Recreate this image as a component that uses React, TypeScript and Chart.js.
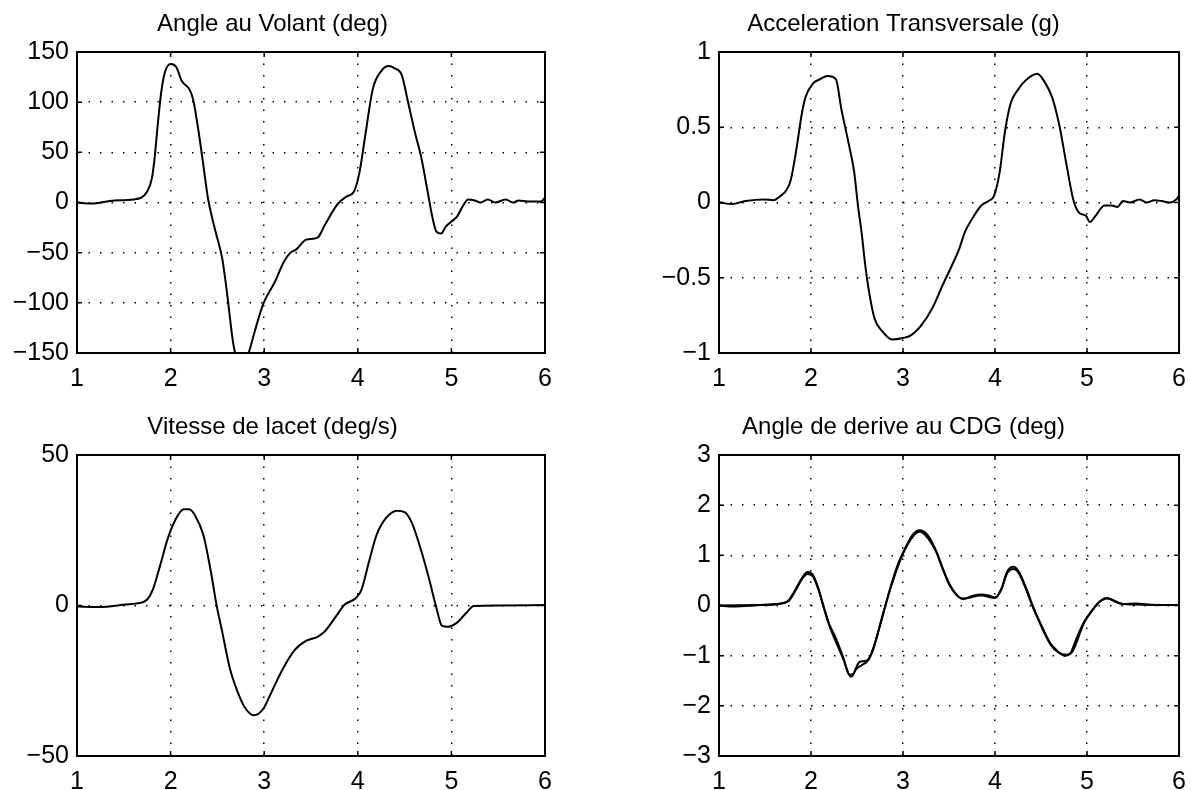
import React, { useEffect, useRef } from 'react';
import { Chart, registerables } from 'chart.js';

Chart.register(...registerables);

const FONT = "'Liberation Sans', Arial, Helvetica, sans-serif";

// ---- Angle au Volant (deg) ----
const volantT = [1.0, 1.15, 1.4, 1.6, 1.75, 1.8, 1.83, 1.86, 1.9, 1.94, 2.0, 2.06, 2.12, 2.2, 2.24, 2.3, 2.34, 2.4, 2.48, 2.55, 2.6, 2.67, 2.7, 2.75, 2.8, 2.84, 2.9, 2.99, 3.12, 3.2, 3.28, 3.34, 3.45, 3.57, 3.65, 3.78, 3.88, 3.96, 4.02, 4.08, 4.16, 4.25, 4.33, 4.39, 4.47, 4.53, 4.61, 4.68, 4.74, 4.8, 4.84, 4.89, 4.94, 5.0, 5.06, 5.12, 5.18, 5.25, 5.31, 5.39, 5.47, 5.58, 5.66, 5.72, 5.82, 5.9, 5.96, 6.0];
const volantDeg = [0, -1, 2, 3, 11, 24, 45, 75, 110, 130, 138, 135, 121, 113, 103, 70, 44, 4, -29, -55, -88, -141, -153, -158, -155, -148, -128, -101, -78, -61, -50, -47, -37, -35, -22, -2, 6, 11, 31, 67, 113, 131, 136, 134, 127, 103, 70, 44, 14, -16, -29, -31, -24, -19, -14, -4, 3, 2, 0, 3, 0, 3, 0, 2, 1, 1, 1, 5];

// ---- Acceleration Transversale (g) ----
const accelT = [1.0, 1.14, 1.29, 1.49, 1.59, 1.67, 1.73, 1.78, 1.84, 1.9, 1.94, 2.02, 2.1, 2.18, 2.27, 2.33, 2.41, 2.47, 2.51, 2.55, 2.59, 2.63, 2.69, 2.78, 2.88, 3.0, 3.08, 3.2, 3.32, 3.43, 3.53, 3.61, 3.67, 3.77, 3.85, 3.93, 3.99, 4.05, 4.11, 4.17, 4.25, 4.34, 4.46, 4.54, 4.62, 4.7, 4.78, 4.85, 4.91, 4.99, 5.03, 5.09, 5.19, 5.27, 5.33, 5.39, 5.47, 5.57, 5.65, 5.73, 5.81, 5.9, 5.97, 6.0];
const accelG = [0.0, -0.01, 0.01, 0.02, 0.015, 0.045, 0.08, 0.15, 0.35, 0.59, 0.7, 0.79, 0.82, 0.84, 0.82, 0.62, 0.39, 0.2, -0.02, -0.2, -0.42, -0.59, -0.77, -0.86, -0.91, -0.9, -0.885, -0.815, -0.7, -0.55, -0.42, -0.31, -0.2, -0.09, -0.02, 0.01, 0.045, 0.2, 0.48, 0.66, 0.75, 0.815, 0.855, 0.8, 0.7, 0.51, 0.24, 0.02, -0.065, -0.09, -0.13, -0.09, -0.02, -0.02, -0.03, 0.01, 0.0, 0.02, 0.0, 0.015, 0.01, 0.0, 0.02, 0.045];

// ---- Vitesse de lacet (deg/s) ----
const lacetT = [1.0, 1.23, 1.52, 1.64, 1.75, 1.81, 1.89, 1.97, 2.06, 2.14, 2.2, 2.26, 2.35, 2.43, 2.49, 2.55, 2.63, 2.71, 2.79, 2.89, 2.99, 3.07, 3.19, 3.32, 3.45, 3.57, 3.65, 3.78, 3.86, 3.98, 4.04, 4.12, 4.2, 4.3, 4.42, 4.5, 4.58, 4.66, 4.75, 4.84, 4.9, 4.96, 5.06, 5.16, 5.24, 5.49, 6.0];
const lacetDegS = [-0.3, -0.5, 0.3, 0.7, 2, 5.3, 13.5, 22.3, 29, 32, 32, 30, 23.4, 11.3, 0.3, -8.5, -20.5, -28.2, -33.7, -36.5, -34.3, -29.3, -21.6, -15, -11.7, -10.4, -8.5, -3, 0.3, 2.5, 5.3, 14.6, 23.4, 29, 31.5, 31, 27.3, 20, 10.2, -0.8, -6.8, -7.1, -5.7, -2.4, -0.2, 0, 0.2];

// ---- Angle de derive au CDG (deg) : two nearly overlapping traces ----
const deriveT = [1.0, 1.16, 1.45, 1.65, 1.75, 1.82, 1.9, 1.96, 2.02, 2.08, 2.14, 2.2, 2.27, 2.35, 2.41, 2.44, 2.49, 2.55, 2.63, 2.69, 2.78, 2.86, 2.94, 3.02, 3.1, 3.18, 3.27, 3.35, 3.43, 3.51, 3.59, 3.65, 3.77, 3.85, 3.93, 4.0, 4.07, 4.13, 4.2, 4.26, 4.34, 4.42, 4.5, 4.6, 4.68, 4.76, 4.82, 4.88, 4.97, 5.05, 5.13, 5.22, 5.3, 5.39, 5.53, 5.73, 6.0];
const deriveDeg = [0, -0.02, 0.01, 0.03, 0.09, 0.28, 0.54, 0.67, 0.61, 0.34, -0.05, -0.38, -0.65, -1.04, -1.37, -1.42, -1.27, -1.19, -1.07, -0.78, -0.18, 0.34, 0.8, 1.13, 1.4, 1.5, 1.4, 1.13, 0.74, 0.41, 0.2, 0.13, 0.2, 0.22, 0.2, 0.16, 0.34, 0.67, 0.77, 0.67, 0.34, -0.05, -0.38, -0.75, -0.91, -1.0, -0.95, -0.68, -0.32, -0.12, 0.07, 0.15, 0.08, 0.03, 0.04, 0.01, 0.01];
const deriveT2 = [1.0, 1.45, 1.75, 1.82, 1.9, 1.96, 2.02, 2.08, 2.2, 2.35, 2.42, 2.46, 2.5, 2.53, 2.6, 2.66, 2.75, 2.86, 3.02, 3.18, 3.35, 3.51, 3.65, 3.85, 4.0, 4.07, 4.13, 4.2, 4.26, 4.42, 4.6, 4.7, 4.78, 4.84, 4.97, 5.13, 5.22, 5.39, 6.0];
const deriveDeg2 = [0, 0.01, 0.08, 0.26, 0.52, 0.63, 0.58, 0.32, -0.4, -1.06, -1.38, -1.36, -1.2, -1.12, -1.1, -0.95, -0.4, 0.32, 1.11, 1.47, 1.11, 0.39, 0.14, 0.2, 0.15, 0.32, 0.64, 0.73, 0.64, -0.07, -0.77, -0.95, -0.98, -0.92, -0.34, 0.06, 0.14, 0.03, 0.01];

const volantTicks = [-150, -100, -50, 0, 50, 100, 150];
const accelTicks = [-1, -0.5, 0, 0.5, 1];
const lacetTicks = [-50, 0, 50];
const deriveTicks = [-3, -2, -1, 0, 1, 2, 3];
const timeTicks = [1, 2, 3, 4, 5, 6];

const pairs = (xs: number[], ys: number[]) => xs.map((x, i) => ({ x, y: ys[i] }));

const fmt = (v: number) => (v < 0 ? '\u2212' + String(Math.abs(v)) : String(v));

const boxPlugin = {
  id: 'matlabBox',
  afterDatasetsDraw(chart: any) {
    const { ctx, chartArea: a, scales } = chart;
    ctx.save();
    ctx.strokeStyle = '#000';
    ctx.lineWidth = 1.5;
    ctx.beginPath();
    const tl = 5;
    scales.x.ticks.forEach((t: any) => {
      const px = scales.x.getPixelForValue(t.value);
      ctx.moveTo(px, a.bottom);
      ctx.lineTo(px, a.bottom - tl);
      ctx.moveTo(px, a.top);
      ctx.lineTo(px, a.top + tl);
    });
    scales.y.ticks.forEach((t: any) => {
      const py = scales.y.getPixelForValue(t.value);
      ctx.moveTo(a.left, py);
      ctx.lineTo(a.left + tl, py);
      ctx.moveTo(a.right, py);
      ctx.lineTo(a.right - tl, py);
    });
    ctx.stroke();
    ctx.lineWidth = 2;
    ctx.strokeRect(a.left, a.top, a.right - a.left, a.bottom - a.top);
    ctx.restore();
  },
};

type Spec = {
  title: string;
  series: { x: number; y: number }[][];
  yTicks: number[];
  left: number;
  top: number;
  width: number;
  height: number;
  yAxisW: number;
  xAxisH: number;
  padRight: number;
};

function Panel({ spec }: { spec: Spec }) {
  const ref = useRef<HTMLCanvasElement>(null);
  useEffect(() => {
    if (!ref.current) return;
    const yMin = spec.yTicks[0];
    const yMax = spec.yTicks[spec.yTicks.length - 1];
    const yStep = spec.yTicks[1] - spec.yTicks[0];
    const chart = new Chart(ref.current, {
      type: 'line',
      data: {
        datasets: spec.series.map((s) => ({
          data: s,
          borderColor: '#000',
          borderWidth: 2,
          pointRadius: 0,
          fill: false,
          cubicInterpolationMode: 'monotone' as const,
        })),
      },
      options: {
        animation: false,
        responsive: false,
        events: [],
        layout: { padding: { left: 0, right: spec.padRight, top: 0, bottom: 0 } },
        plugins: {
          legend: { display: false },
          tooltip: { enabled: false },
          title: {
            display: true,
            text: spec.title,
            color: '#000',
            font: { family: FONT, size: 24, weight: 'normal' },
            padding: { top: 10, bottom: 13.2 },
          },
        },
        scales: {
          x: {
            type: 'linear',
            min: timeTicks[0],
            max: timeTicks[timeTicks.length - 1],
            afterBuildTicks: (s: any) => {
              s.ticks = timeTicks.map((v) => ({ value: v }));
            },
            ticks: {
              color: '#000',
              font: { family: FONT, size: 25 },
              padding: 11,
              maxRotation: 0,
              callback: (v: any) => fmt(Number(v)),
            },
            grid: { color: '#000', lineWidth: 1.5, drawTicks: false },
            border: { display: false, dash: [1.5, 10] },
            afterFit: (s: any) => {
              s.height = spec.xAxisH;
            },
          },
          y: {
            type: 'linear',
            min: yMin,
            max: yMax,
            afterBuildTicks: (s: any) => {
              s.ticks = spec.yTicks.map((v) => ({ value: v }));
            },
            ticks: {
              stepSize: yStep,
              color: '#000',
              font: { family: FONT, size: 25 },
              padding: 8,
              callback: (v: any) => fmt(Number(v)),
            },
            grid: { color: '#000', lineWidth: 1.5, drawTicks: false },
            border: { display: false, dash: [1.5, 10] },
            afterFit: (s: any) => {
              s.width = spec.yAxisW;
            },
          },
        },
      } as any,
      plugins: [boxPlugin],
    });
    return () => chart.destroy();
  }, []);
  return (
    <canvas
      ref={ref}
      width={spec.width}
      height={spec.height}
      style={{ position: 'absolute', left: spec.left, top: spec.top, width: spec.width, height: spec.height }}
    />
  );
}

const specs: Spec[] = [
  {
    title: 'Angle au Volant (deg)',
    series: [pairs(volantT, volantDeg)],
    yTicks: volantTicks,
    left: 0, top: 0, width: 598, height: 395, yAxisW: 77, xAxisH: 42, padRight: 53,
  },
  {
    title: 'Acceleration Transversale (g)',
    series: [pairs(accelT, accelG)],
    yTicks: accelTicks,
    left: 618, top: 0, width: 579, height: 395, yAxisW: 101, xAxisH: 42, padRight: 8,
  },
  {
    title: 'Vitesse de lacet (deg/s)',
    series: [pairs(lacetT, lacetDegS)],
    yTicks: lacetTicks,
    left: 0, top: 403, width: 598, height: 387, yAxisW: 77, xAxisH: 34, padRight: 53,
  },
  {
    title: 'Angle de derive au CDG (deg)',
    series: [pairs(deriveT, deriveDeg), pairs(deriveT2, deriveDeg2)],
    yTicks: deriveTicks,
    left: 618, top: 403, width: 579, height: 387, yAxisW: 101, xAxisH: 34, padRight: 8,
  },
];

export default function App() {
  return (
    <div
      style={{
        position: 'absolute',
        left: 0,
        top: 0,
        width: 1197,
        height: 790,
        overflow: 'hidden',
        background: '#fff',
      }}
    >
      {specs.map((s, i) => (
        <Panel key={i} spec={s} />
      ))}
    </div>
  );
}
